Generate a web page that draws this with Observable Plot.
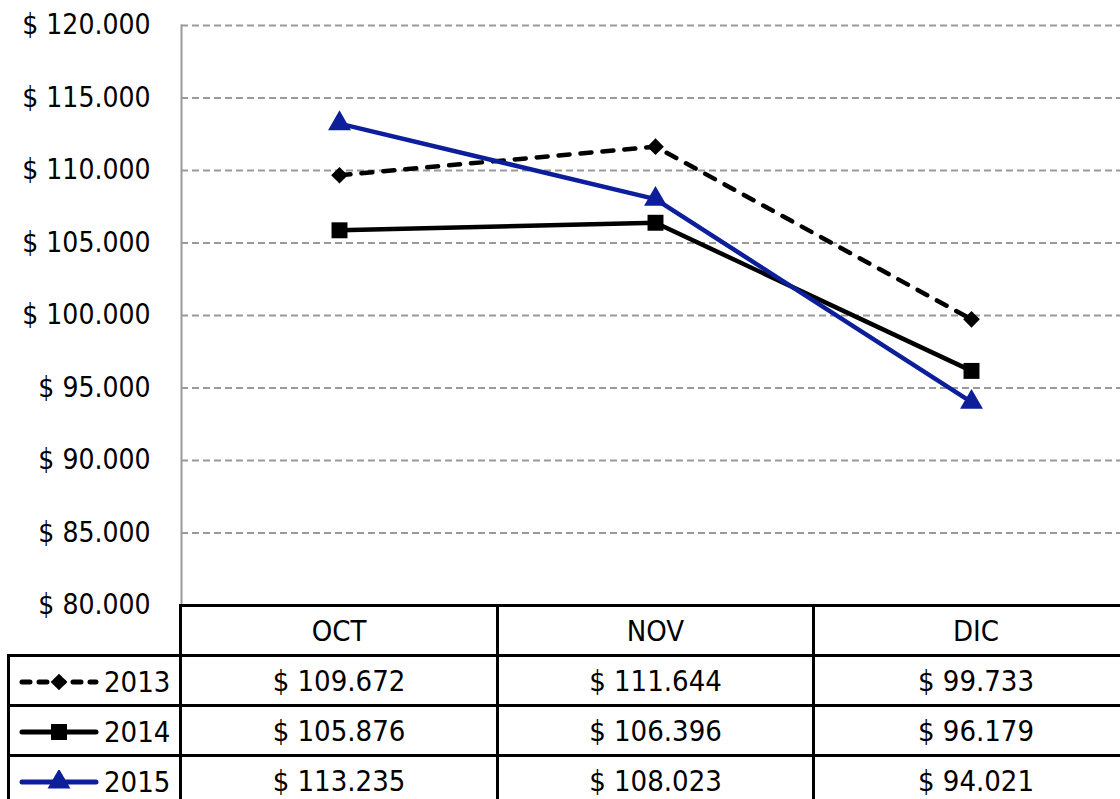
<!DOCTYPE html>
<html>
<head>
<meta charset="utf-8">
<script src="https://cdn.jsdelivr.net/npm/d3@7"></script>
<script src="https://cdn.jsdelivr.net/npm/@observablehq/plot@0.6"></script>
<style>
  html, body { margin: 0; padding: 0; background: #fff; overflow: hidden; }
  #wrap { position: relative; width: 1120px; height: 799px; overflow: hidden; font-family: "DejaVu Sans Condensed", "DejaVu Sans", sans-serif; }
  #chart { position: absolute; left: 0; top: 0; }
  #tbl { position: absolute; left: 7px; top: 604px; width: 1130px; border-collapse: collapse; table-layout: fixed; font-size: 29px; color: #000; }
  #tbl td { border: 3px solid #000; height: 47px; padding: 0; text-align: center; vertical-align: middle; white-space: nowrap; overflow: hidden; }
  #tbl td.blank { border-top: none; border-left: none; }
  #tbl td.leg { text-align: left; }
  #tbl td.leg svg { vertical-align: middle; margin-left: 8px; }
  #tbl td.leg span { vertical-align: middle; margin-left: 4px; }
</style>
</head>
<body>
<div id="wrap"><div id="chart"></div></div>
<script>
const months = ["OCT", "NOV", "DIC"];
const years = ["2013", "2014", "2015"];
const values2013 = [109672, 111644, 99733];
const values2014 = [105876, 106396, 96179];
const values2015 = [113235, 108023, 94021];
const yTicks = [80000, 85000, 90000, 95000, 100000, 105000, 110000, 115000, 120000];

const seriesValues = [values2013, values2014, values2015];
const styles = {
  "2013": {stroke: "#000", dash: "11,11", symbol: "diamond2", r: 7.5},
  "2014": {stroke: "#000", dash: null, symbol: "square", r: 9},
  "2015": {stroke: "#0c1e9a", dash: null, symbol: "triangle", r: 8.5}
};

const loc = d3.formatLocale({decimal: ",", thousands: ".", grouping: [3], currency: ["$ ", ""]});
const money = loc.format("$,");

const rows = [];
years.forEach((y, i) => months.forEach((m, j) => rows.push({year: y, month: m, value: seriesValues[i][j]})));

const marks = [
  Plot.gridY(yTicks, {stroke: "#9a9a9a", strokeOpacity: 1, strokeWidth: 2, strokeDasharray: "7,4"}),
  Plot.frame({anchor: "left", stroke: "#9a9a9a", strokeWidth: 2}),
  Plot.axisY({ticks: yTicks, tickFormat: money, tickSize: 0, tickPadding: 31, fontSize: 28, label: null, fill: "#000"})
];
for (const y of years) {
  const s = styles[y];
  const d = rows.filter(r => r.year === y);
  marks.push(Plot.line(d, {x: "month", y: "value", stroke: s.stroke, strokeWidth: 4.5, strokeDasharray: s.dash ?? undefined, strokeLinecap: s.dash ? "round" : "butt"}));
  marks.push(Plot.dot(d, {x: "month", y: "value", symbol: () => s.symbol, r: s.r, fill: s.stroke, stroke: "none"}));
}

const plot = Plot.plot({
  width: 1120,
  height: 607,
  marginTop: 25,
  marginBottom: 2,
  marginLeft: 181,
  marginRight: 0,
  style: {fontFamily: '"DejaVu Sans Condensed", "DejaVu Sans", sans-serif', fontSize: "28px", color: "#000", background: "transparent", overflow: "visible"},
  x: {type: "point", domain: months, range: [181, 1129], padding: 0.5, axis: null},
  y: {domain: [80000, 120000], axis: null},
  marks
});
document.getElementById("chart").appendChild(plot);

// data table below the plot
function swatch(y) {
  const s = styles[y];
  const svg = d3.create("svg").attr("width", 82).attr("height", 24);
  svg.append("line").attr("x1", 4).attr("x2", 78).attr("y1", 12).attr("y2", 12)
    .attr("stroke", s.stroke).attr("stroke-width", 5)
    .attr("stroke-linecap", "round")
    .attr("stroke-dasharray", s.dash ? "8,9" : null);
  const sym = s.symbol === "diamond2" ? d3.symbolDiamond2 : s.symbol === "square" ? d3.symbolSquare : d3.symbolTriangle;
  svg.append("path").attr("transform", "translate(41,12)")
    .attr("d", d3.symbol(sym, Math.PI * s.r * s.r)())
    .attr("fill", s.stroke);
  return svg.node();
}

const table = document.createElement("table");
table.id = "tbl";
const cg = document.createElement("colgroup");
[172, 317, 316, 325].forEach(w => { const c = document.createElement("col"); c.style.width = w + "px"; cg.appendChild(c); });
table.appendChild(cg);
const hr = table.insertRow();
const blank = hr.insertCell(); blank.className = "blank";
months.forEach(m => { const c = hr.insertCell(); c.textContent = m; });
years.forEach((y, i) => {
  const tr = table.insertRow();
  const lc = tr.insertCell(); lc.className = "leg";
  lc.appendChild(swatch(y));
  const sp = document.createElement("span"); sp.textContent = y; lc.appendChild(sp);
  seriesValues[i].forEach(v => { const c = tr.insertCell(); c.textContent = money(v); });
});
document.getElementById("wrap").appendChild(table);
</script>
</body>
</html>
